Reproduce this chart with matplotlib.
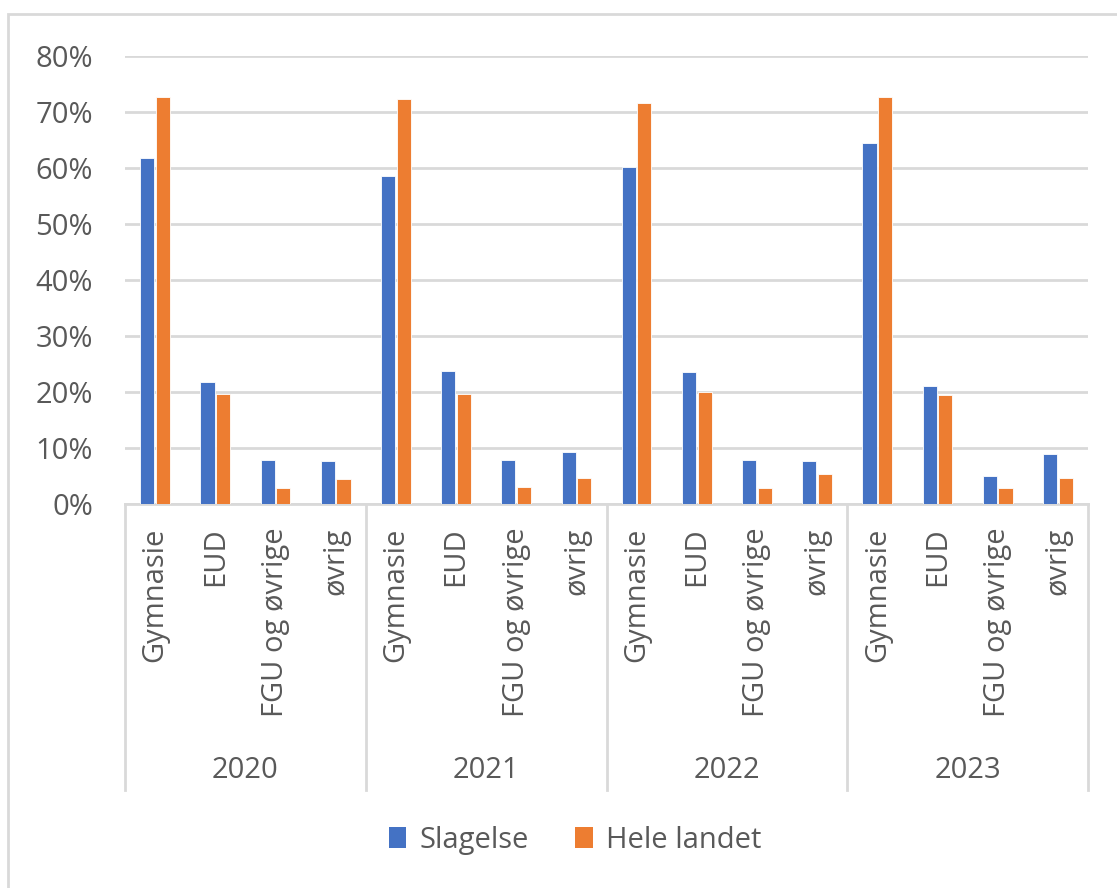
import matplotlib
matplotlib.use("Agg")
import matplotlib.pyplot as plt
import matplotlib.transforms as mtransforms
from matplotlib.patches import Rectangle, Patch
import numpy as np

plt.rcParams['font.family'] = ['Open Sans', 'DejaVu Sans']

years = ["2020", "2021", "2022", "2023"]
categories = ["Gymnasie", "EUD", "FGU og øvrige", "øvrig"]
slagelse = [61.8, 21.8, 7.8, 7.6,
            58.6, 23.8, 7.9, 9.2,
            60.2, 23.5, 7.9, 7.6,
            64.5, 21.0, 5.0, 8.9]
hele_landet = [72.6, 19.7, 2.8, 4.4,
               72.3, 19.7, 3.1, 4.7,
               71.6, 20.0, 2.8, 5.3,
               72.6, 19.4, 2.8, 4.7]
yticks = [0, 10, 20, 30, 40, 50, 60, 70, 80]

BLUE = "#4472C4"
ORANGE = "#ED7D31"
GRID = "#D9D9D9"
TXT = "#595959"
FS = 21

W, H = 1117, 888
fig = plt.figure(figsize=(W / 100, H / 100), dpi=100)
fig.patch.set_facecolor("white")

# outer chart border
fig.patches.append(Rectangle((8 / W, 1 - 905 / H), 1.2, 891 / H, transform=fig.transFigure,
                             fill=False, edgecolor=GRID, linewidth=2, clip_on=False))

left, right, top, bottom = 125, 1088, 56, 504
ax = fig.add_axes([left / W, 1 - bottom / H, (right - left) / W, (bottom - top) / H])

n = len(years) * len(categories)
x = np.arange(n)
bw = 0.235
off = 0.13
ax.bar(x - off, np.array(slagelse) / 100, bw, color=BLUE, edgecolor="white", linewidth=0.6, zorder=3)
ax.bar(x + off, np.array(hele_landet) / 100, bw, color=ORANGE, edgecolor="white", linewidth=0.6, zorder=3)

ax.set_xlim(-0.5, n - 0.5)
ax.set_ylim(0, 0.8)
ax.set_yticks([v / 100 for v in yticks])
ax.set_yticklabels([f"{v}%" for v in yticks], fontsize=FS, color=TXT)
ax.yaxis.grid(True, color=GRID, linewidth=2, zorder=0)
ax.set_axisbelow(True)
for s in ["left", "right", "top"]:
    ax.spines[s].set_visible(False)
ax.spines["bottom"].set_color(GRID)
ax.spines["bottom"].set_linewidth(2)
ax.tick_params(axis="y", length=0, pad=23)

ax.set_xticks(x)
ax.set_xticklabels(categories * len(years), rotation=90, fontsize=FS, color=TXT, va="top", ha="center")
ax.tick_params(axis="x", length=0, pad=17)

trans = mtransforms.blended_transform_factory(ax.transData, ax.transAxes)
sep_bottom = -(790 - bottom) / (bottom - top)
for g in range(len(years) + 1):
    xb = g * len(categories) - 0.5
    ax.plot([xb, xb], [0, sep_bottom], transform=trans, color=GRID, linewidth=2, clip_on=False)
year_y = -(770 - bottom) / (bottom - top)
for g, yr in enumerate(years):
    xc = g * len(categories) + (len(categories) - 1) / 2
    ax.text(xc, year_y, yr, transform=trans, ha="center", va="center", fontsize=FS, color=TXT)

handles = [Patch(facecolor=BLUE, label="Slagelse"), Patch(facecolor=ORANGE, label="Hele landet")]
fig.legend(handles=handles, loc="center", bbox_to_anchor=(575 / W, 1 - 840 / H), ncol=2,
           frameon=False, fontsize=FS, labelcolor=TXT, handlelength=0.6, handleheight=0.75,
           handletextpad=0.45, columnspacing=1.6)

fig.savefig("out.png", dpi=100, facecolor="white")
